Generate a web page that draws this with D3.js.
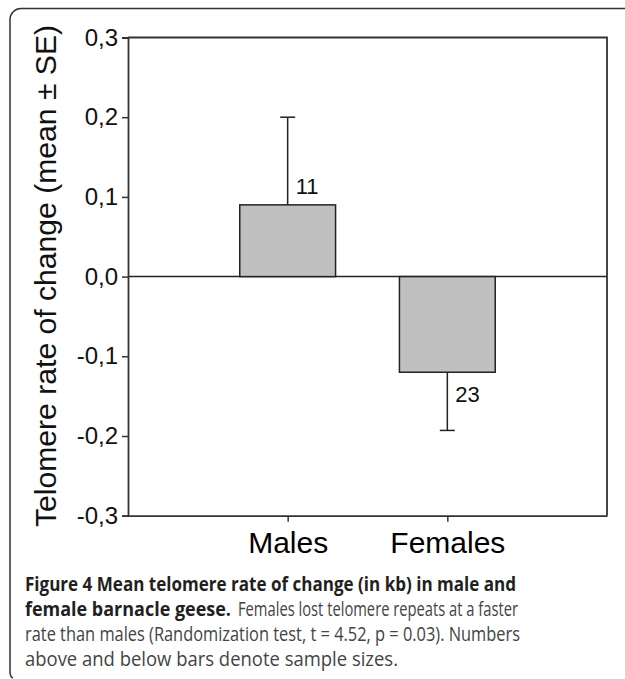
<!DOCTYPE html>
<html>
<head>
<meta charset="utf-8">
<script src="https://cdn.jsdelivr.net/npm/d3@7"></script>
<style>
  body { margin: 0; background: #fff; }
  svg { display: block; }
</style>
</head>
<body>
<div id="chart"></div>
<script>
// data
var groups = ["Males", "Females"];
var means = [0.09, -0.12];
var errors = [0.11, 0.073];
var sampleSizes = [11, 23];
var yTicks = [-0.3, -0.2, -0.1, 0.0, 0.1, 0.2, 0.3];

// caption pieces: text, bold, line, start x, width
var captionParts = [
    { t: "Figure 4 Mean telomere rate of change (in kb) in male and", b: true, line: 0, x: 25, w: 491 },
    { t: "female barnacle geese.", b: true, line: 1, x: 25, w: 206 },
    { t: "Females lost telomere repeats at a faster", b: false, line: 1, x: 238, w: 280 },
    { t: "rate than males (Randomization test, t = 4.52, p = 0.03). Numbers", b: false, line: 2, x: 25, w: 495 },
    { t: "above and below bars denote sample sizes.", b: false, line: 3, x: 25, w: 373 }
];

var width = 625, height = 679;
var plot = { left: 128, right: 607, top: 37.5, bottom: 515.7 };

var svg = d3.select("#chart").append("svg")
    .attr("width", width)
    .attr("height", height);

// frame with rounded corner on the left
svg.append("path")
    .attr("d", "M625,8.5 H21 A11,11 0 0 0 10,19.5 V672 Q10,677 13,678")
    .attr("fill", "none")
    .attr("stroke", "#333")
    .attr("stroke-width", 1.5);

var x = d3.scalePoint()
    .domain(groups)
    .range([plot.left, plot.right])
    .padding(1);

var y = d3.scaleLinear()
    .domain([-0.3, 0.3])
    .range([plot.bottom, plot.top]);

var barW = x.step() * 0.6;

// plot box (top and right)
svg.append("path")
    .attr("d", "M" + plot.left + "," + plot.top + " H" + plot.right + " V" + plot.bottom)
    .attr("fill", "none")
    .attr("stroke", "#333")
    .attr("stroke-width", 1.8);

// zero line
svg.append("line")
    .attr("x1", plot.left).attr("x2", plot.right)
    .attr("y1", y(0)).attr("y2", y(0))
    .attr("stroke", "#222")
    .attr("stroke-width", 1.5);

// bars
svg.selectAll(".bar")
    .data(groups)
    .join("rect")
    .attr("class", "bar")
    .attr("x", function (d) { return x(d) - barW / 2; })
    .attr("y", function (d, i) { return y(Math.max(0, means[i])); })
    .attr("width", barW)
    .attr("height", function (d, i) { return Math.abs(y(means[i]) - y(0)); })
    .attr("fill", "#c0c0c0")
    .attr("stroke", "#222")
    .attr("stroke-width", 1.5);

// one-sided error bars
groups.forEach(function (g, i) {
    var end = means[i] + Math.sign(means[i]) * errors[i];
    svg.append("line")
        .attr("x1", x(g)).attr("x2", x(g))
        .attr("y1", y(means[i])).attr("y2", y(end))
        .attr("stroke", "#222")
        .attr("stroke-width", 1.5);
    svg.append("line")
        .attr("x1", x(g) - 7.5).attr("x2", x(g) + 7.5)
        .attr("y1", y(end)).attr("y2", y(end))
        .attr("stroke", "#222")
        .attr("stroke-width", 1.5);
    svg.append("text")
        .attr("x", x(g) + 8)
        .attr("y", means[i] > 0 ? y(means[i]) - 11 : y(means[i]) + 30)
        .attr("font-family", "Liberation Sans, Arial, sans-serif")
        .attr("font-size", "22px")
        .attr("fill", "#111")
        .text(sampleSizes[i]);
});

// y axis
var yAxis = d3.axisLeft(y)
    .tickValues(yTicks)
    .tickSize(6)
    .tickPadding(4)
    .tickFormat(function (d) { return d3.format(".1f")(d).replace(".", ",").replace("−", "-"); });

var gy = svg.append("g")
    .attr("transform", "translate(" + plot.left + ",0)")
    .call(yAxis);
gy.select(".domain").attr("stroke", "#333").attr("stroke-width", 1.8);
gy.selectAll(".tick line").attr("stroke", "#333").attr("stroke-width", 1.5);
gy.selectAll(".tick text")
    .attr("font-family", "Liberation Sans, Arial, sans-serif")
    .attr("font-size", "24px")
    .attr("fill", "#111");

// x axis
var xAxis = d3.axisBottom(x)
    .tickSize(6)
    .tickPadding(10)
    .tickSizeOuter(0);

var gx = svg.append("g")
    .attr("transform", "translate(0," + plot.bottom + ")")
    .call(xAxis);
gx.select(".domain").attr("stroke", "#333").attr("stroke-width", 1.8);
gx.selectAll(".tick line").attr("stroke", "#333").attr("stroke-width", 1.5);
gx.selectAll(".tick text")
    .attr("font-family", "Liberation Sans, Arial, sans-serif")
    .attr("font-size", "30px")
    .attr("fill", "#000");

// y axis title
svg.append("text")
    .attr("transform", "translate(56," + 276 + ") rotate(-90)")
    .attr("text-anchor", "middle")
    .attr("font-family", "Liberation Sans, Arial, sans-serif")
    .attr("font-size", "29px")
    .attr("fill", "#111")
    .attr("textLength", 502)
    .attr("lengthAdjust", "spacingAndGlyphs")
    .text("Telomere rate of change (mean \u00b1 SE)");

// caption
svg.selectAll(".caption")
    .data(captionParts)
    .join("text")
    .attr("class", "caption")
    .attr("x", function (d) { return d.x; })
    .attr("y", function (d) { return 591 + d.line * 25; })
    .attr("font-family", "Open Sans, sans-serif")
    .attr("font-size", "20px")
    .attr("font-weight", function (d) { return d.b ? "bold" : "normal"; })
    .attr("fill", function (d) { return d.b ? "#231f20" : "#444"; })
    .attr("textLength", function (d) { return d.w; })
    .attr("lengthAdjust", "spacingAndGlyphs")
    .text(function (d) { return d.t; });
</script>
</body>
</html>
